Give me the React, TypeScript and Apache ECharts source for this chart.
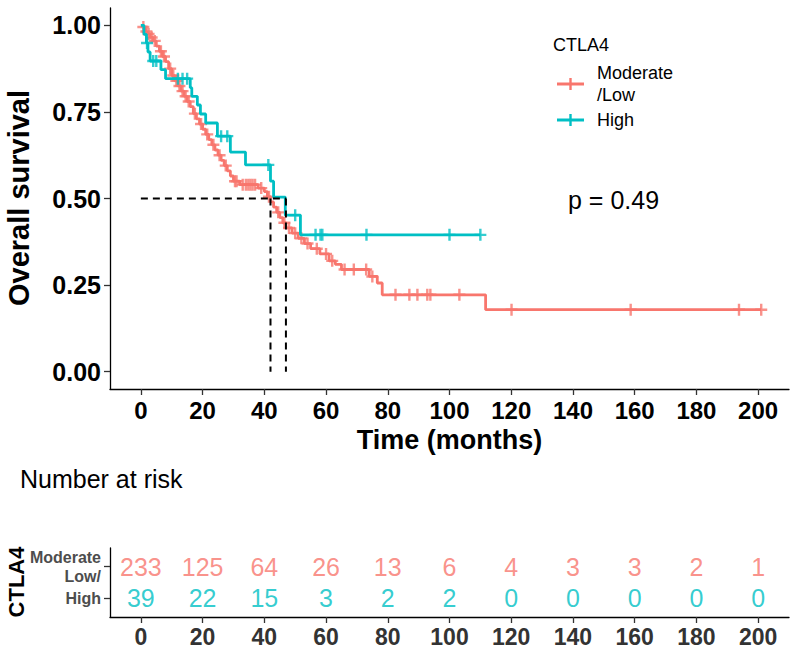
import React, { useEffect, useRef } from "react";
import * as echarts from "echarts";

// ---------- data ----------
const groupNames = ["Moderate/Low", "High"];
const legendLines = ["Moderate\n/Low", "High"];
const legendTitle = "CTLA4";
const groupColors = ["#F8766D", "#00BFC4"];

// Moderate/Low KM steps (time in months, survival)
const lowTimes = [0, 0.5, 1, 1.5, 2, 3, 4, 5, 6, 7, 8, 9, 10, 11, 12, 13, 14, 15, 16, 17, 18, 19, 20, 21, 22, 23, 24, 25, 26, 27, 28, 29, 30, 32, 38, 40, 41, 42, 43, 44, 45, 46, 47, 49, 51, 53, 55, 58, 61, 63, 65, 74, 76.6, 78.2, 111.7];
const lowSurv = [1.0, 0.995, 0.99, 0.982, 0.975, 0.965, 0.955, 0.94, 0.925, 0.91, 0.895, 0.875, 0.855, 0.84, 0.825, 0.81, 0.795, 0.78, 0.765, 0.745, 0.73, 0.715, 0.7, 0.685, 0.67, 0.655, 0.64, 0.625, 0.61, 0.595, 0.58, 0.565, 0.55, 0.54, 0.53, 0.52, 0.505, 0.49, 0.475, 0.46, 0.445, 0.43, 0.415, 0.4, 0.385, 0.37, 0.355, 0.34, 0.32, 0.31, 0.295, 0.275, 0.256, 0.222, 0.179];
const lowEnd = 201;
const lowCensor = [0.8, 1.8, 2.5, 3.5, 4.5, 6.5, 7.5, 9.5, 10.5, 11.5, 12.5, 13.5, 14.5, 15.5, 17.5, 19.5, 21.5, 23.5, 25.5, 27.5, 30.5, 31, 33, 34, 34.8, 35.5, 36.2, 37, 39, 41.5, 44.5, 46.5, 48, 50, 52, 54, 57, 60, 62, 66, 69, 73, 75, 82.5, 87, 89.6, 92.8, 93.8, 103.2, 120.1, 158.7, 193.8, 201];

// High KM steps
const highTimes = [0, 1.0, 1.8, 2.3, 3.0, 6.5, 8.0, 16.0, 16.5, 18.3, 19.3, 21.0, 24.8, 29.0, 33.9, 42.0, 43.0, 46.8, 51.7];
const highSurv = [1.0, 0.974, 0.949, 0.923, 0.897, 0.872, 0.846, 0.82, 0.795, 0.77, 0.744, 0.718, 0.68, 0.634, 0.597, 0.55, 0.504, 0.452, 0.395];
const highEnd = 110;
const highCensor = [2.0, 4.0, 5.0, 12.0, 13.5, 15.0, 26.0, 28.0, 41.3, 50.0, 56.6, 58.2, 58.8, 73.1, 100.0, 110.0];

const medians = [42, 47];
const pValueText = "p = 0.49";

const xTicks = [0, 20, 40, 60, 80, 100, 120, 140, 160, 180, 200];
const yTicks = [0, 0.25, 0.5, 0.75, 1.0];

const riskLow = [233, 125, 64, 26, 13, 6, 4, 3, 3, 2, 1];
const riskHigh = [39, 22, 15, 3, 2, 2, 0, 0, 0, 0, 0];
const riskRowLabels = ["Moderate\nLow/", "High"];
const riskTitle = "Number at risk";
const xTitle = "Time (months)";
const yTitle = "Overall survival";

// ---------- helpers ----------
const FONT = "'Liberation Sans', Arial, Helvetica, sans-serif";
const NARROW = "'Liberation Sans Narrow', 'Liberation Sans', Arial, sans-serif";
const plusPath = "path://M4,0H6V4H10V6H6V10H4V6H0V4H4Z";

function survAt(times: number[], surv: number[], t: number) {
  let s = surv[0];
  for (let i = 0; i < times.length; i++) {
    if (times[i] <= t) s = surv[i];
  }
  return s;
}

function stepData(times: number[], surv: number[], end: number) {
  const d = times.map((t, i) => [t, surv[i]]);
  d.push([end, surv[surv.length - 1]]);
  return d;
}

export default function App() {
  const ref = useRef<HTMLDivElement>(null);
  useEffect(() => {
    if (!ref.current) return;
    const chart = echarts.init(ref.current, null, { renderer: "svg" });

    const curves = [
      { times: lowTimes, surv: lowSurv, end: lowEnd, cens: lowCensor },
      { times: highTimes, surv: highSurv, end: highEnd, cens: highCensor },
    ];

    const series: any[] = [];
    curves.forEach((c, gi) => {
      series.push({
        type: "line",
        name: groupNames[gi],
        xAxisIndex: 0,
        yAxisIndex: 0,
        step: "end",
        showSymbol: false,
        symbol: "none",
        data: stepData(c.times, c.surv, c.end),
        lineStyle: { color: groupColors[gi], width: 2.8 },
        z: 2 + gi,
        silent: true,
      });
      series.push({
        type: "scatter",
        xAxisIndex: 0,
        yAxisIndex: 0,
        symbol: plusPath,
        symbolSize: 12,
        data: c.cens.map((t) => [t, survAt(c.times, c.surv, t)]),
        itemStyle: { color: groupColors[gi] },
        z: 2 + gi,
        silent: true,
      });
    });

    const maxMed = Math.max(...medians);
    const dashStyle = { color: "#000", width: 2, type: [7, 5] };
    series.push({
      type: "line",
      xAxisIndex: 0,
      yAxisIndex: 0,
      symbol: "none",
      data: [[0, 0.5], [maxMed, 0.5]],
      lineStyle: dashStyle,
      z: 5,
      silent: true,
    });
    medians.forEach((m) => {
      series.push({
        type: "line",
        xAxisIndex: 0,
        yAxisIndex: 0,
        symbol: "none",
        data: [[m, 0.5], [m, 0]],
        lineStyle: dashStyle,
        z: 5,
        silent: true,
      });
    });

    // risk table
    [riskLow, riskHigh].forEach((arr, gi) => {
      series.push({
        type: "scatter",
        xAxisIndex: 1,
        yAxisIndex: 1,
        symbolSize: 1,
        itemStyle: { color: "rgba(0,0,0,0)" },
        data: arr.map((n, i) => [xTicks[i], gi === 0 ? 2 : 1, n]),
        label: {
          show: true,
          position: "inside",
          formatter: (p: any) => String(p.value[2]),
          color: groupColors[gi],
          fontSize: 25,
          fontFamily: FONT,
        },
        silent: true,
      });
    });

    const axisLine = { show: true, onZero: false, lineStyle: { color: "#000", width: 1.3 } };
    const tickStyle = { show: true, length: 6, lineStyle: { color: "#333", width: 1.3 } };

    const option: any = {
      animation: false,
      backgroundColor: "#fff",
      grid: [
        { left: 110, top: 8, width: 679, height: 381, containLabel: false },
        { left: 110, top: 548, width: 679, height: 69, containLabel: false },
      ],
      xAxis: [
        {
          type: "value",
          gridIndex: 0,
          min: -10,
          max: 210,
          axisLine,
          axisTick: { ...tickStyle, customValues: xTicks },
          axisLabel: {
            customValues: xTicks,
            fontSize: 24,
            fontWeight: "bold",
            color: "#000",
            fontFamily: FONT,
            margin: 9,
          },
          splitLine: { show: false },
        },
        {
          type: "value",
          gridIndex: 1,
          min: -10,
          max: 210,
          axisLine,
          axisTick: { ...tickStyle, customValues: xTicks },
          axisLabel: {
            customValues: xTicks,
            fontSize: 23,
            fontWeight: "bold",
            color: "#333",
            fontFamily: FONT,
            margin: 8,
          },
          splitLine: { show: false },
        },
      ],
      yAxis: [
        {
          type: "value",
          gridIndex: 0,
          min: -0.05,
          max: 1.05,
          axisLine,
          axisTick: { ...tickStyle, customValues: yTicks },
          axisLabel: {
            customValues: yTicks,
            formatter: (v: number) => v.toFixed(2),
            fontSize: 25,
            fontWeight: "bold",
            color: "#000",
            fontFamily: FONT,
            margin: 9,
          },
          splitLine: { show: false },
        },
        {
          type: "value",
          gridIndex: 1,
          min: 0.42,
          max: 2.58,
          axisLine,
          axisTick: { ...tickStyle, customValues: [1, 2] },
          axisLabel: {
            customValues: [1, 2],
            formatter: (v: number) => (v === 2 ? riskRowLabels[0] : riskRowLabels[1]),
            fontSize: 16,
            lineHeight: 19,
            fontWeight: "bold",
            color: "#4d4d4d",
            fontFamily: NARROW,
            margin: 9,
          },
          splitLine: { show: false },
        },
      ],
      graphic: [
        {
          type: "text",
          x: 19,
          y: 198,
          rotation: Math.PI / 2,
          style: { text: yTitle, fontSize: 29, fontWeight: "bold", fontFamily: FONT, fill: "#000", align: "center", verticalAlign: "middle" },
        },
        {
          type: "text",
          x: 449.5,
          y: 440,
          style: { text: xTitle, fontSize: 27, fontWeight: "bold", fontFamily: FONT, fill: "#000", align: "center", verticalAlign: "middle" },
        },
        {
          type: "text",
          x: 20,
          y: 479,
          style: { text: riskTitle, fontSize: 25, fontFamily: FONT, fill: "#000", align: "left", verticalAlign: "middle" },
        },
        {
          type: "text",
          x: 16,
          y: 582,
          rotation: Math.PI / 2,
          style: { text: legendTitle, fontSize: 22, fontWeight: "bold", fontFamily: FONT, fill: "#000", align: "center", verticalAlign: "middle" },
        },
        {
          type: "text",
          x: 568,
          y: 200,
          style: { text: pValueText, fontSize: 25, fontFamily: FONT, fill: "#000", align: "left", verticalAlign: "middle" },
        },
        {
          type: "text",
          x: 553,
          y: 45,
          style: { text: legendTitle, fontSize: 18, fontFamily: FONT, fill: "#000", align: "left", verticalAlign: "middle" },
        },
        ...[84, 120].flatMap((cy, gi) => [
          { type: "line", shape: { x1: 557, y1: cy, x2: 584, y2: cy }, style: { stroke: groupColors[gi], lineWidth: 3 } },
          { type: "line", shape: { x1: 570.5, y1: cy - 6, x2: 570.5, y2: cy + 6 }, style: { stroke: groupColors[gi], lineWidth: 2.4 } },
          {
            type: "text",
            x: 597,
            y: cy,
            style: { text: legendLines[gi], fontSize: 18, lineHeight: 22, fontFamily: FONT, fill: "#000", align: "left", verticalAlign: "middle" },
          },
        ]),
      ],
      series,
    };

    chart.setOption(option);
    return () => chart.dispose();
  }, []);

  return (
    <div
      ref={ref}
      style={{ position: "fixed", left: 0, top: 0, width: 793, height: 653, background: "#fff" }}
    />
  );
}
